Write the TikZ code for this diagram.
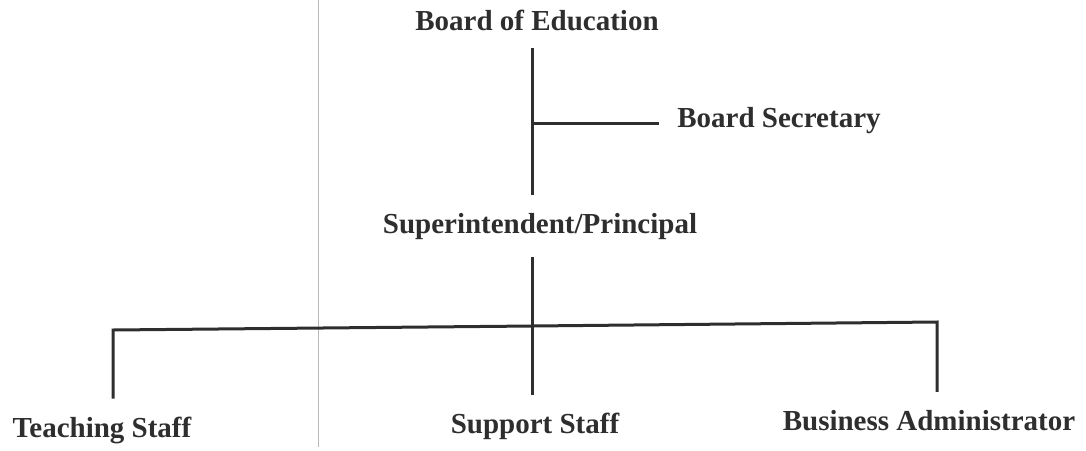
\documentclass[tikz,border=0pt]{standalone}
\usepackage{fontspec}
\setmainfont{Liberation Serif}
\usepackage{xcolor}
\usepackage{tikz}

\definecolor{ink}{HTML}{2E2E2E}
\tikzset{
  post/.style={font=\bfseries\fontsize{14.5}{17}\selectfont, text=ink, inner sep=0pt, outer sep=9pt},
  orgline/.style={draw=ink, line width=1.5pt},
  foldline/.style={draw=gray!55, line width=0.5pt}
}

\begin{document}
\begin{tikzpicture}[x=0.5pt,y=-0.5pt]
  \useasboundingbox (0,0) rectangle (1086,450);
  % scanner fold
  \draw[foldline] (318,0) -- (318,447);
  % posts
  \node[post, anchor=base] (board) at (537,30) {Board of Education};
  \node[post, anchor=base] (secretary) at (779,127) {Board Secretary};
  \node[post, anchor=base] (super) at (540,233) {Superintendent/Principal};
  \node[post, anchor=base] (teaching) at (102,437) {Teaching Staff};
  \node[post, anchor=base] (support) at (535,433) {Support Staff};
  \node[post, anchor=base] (business) at (929,430) {Business Administrator};
  % junctions
  \coordinate (tap) at (532,123);
  \coordinate (mid) at (532,326);
  \coordinate (barL) at (113,330);
  \coordinate (barR) at (937,322);
  % lines
  \draw[orgline] (board.south -| tap) -- (super.north -| tap);
  \draw[orgline] (tap) -- (tap -| secretary.west);
  \draw[orgline] (super.south -| mid) -- (mid) -- (support.north -| mid);
  \draw[orgline] (barL |- teaching.north) -- (barL) -- (mid) -- (barR) -- (barR |- business.north);
\end{tikzpicture}
\end{document}
